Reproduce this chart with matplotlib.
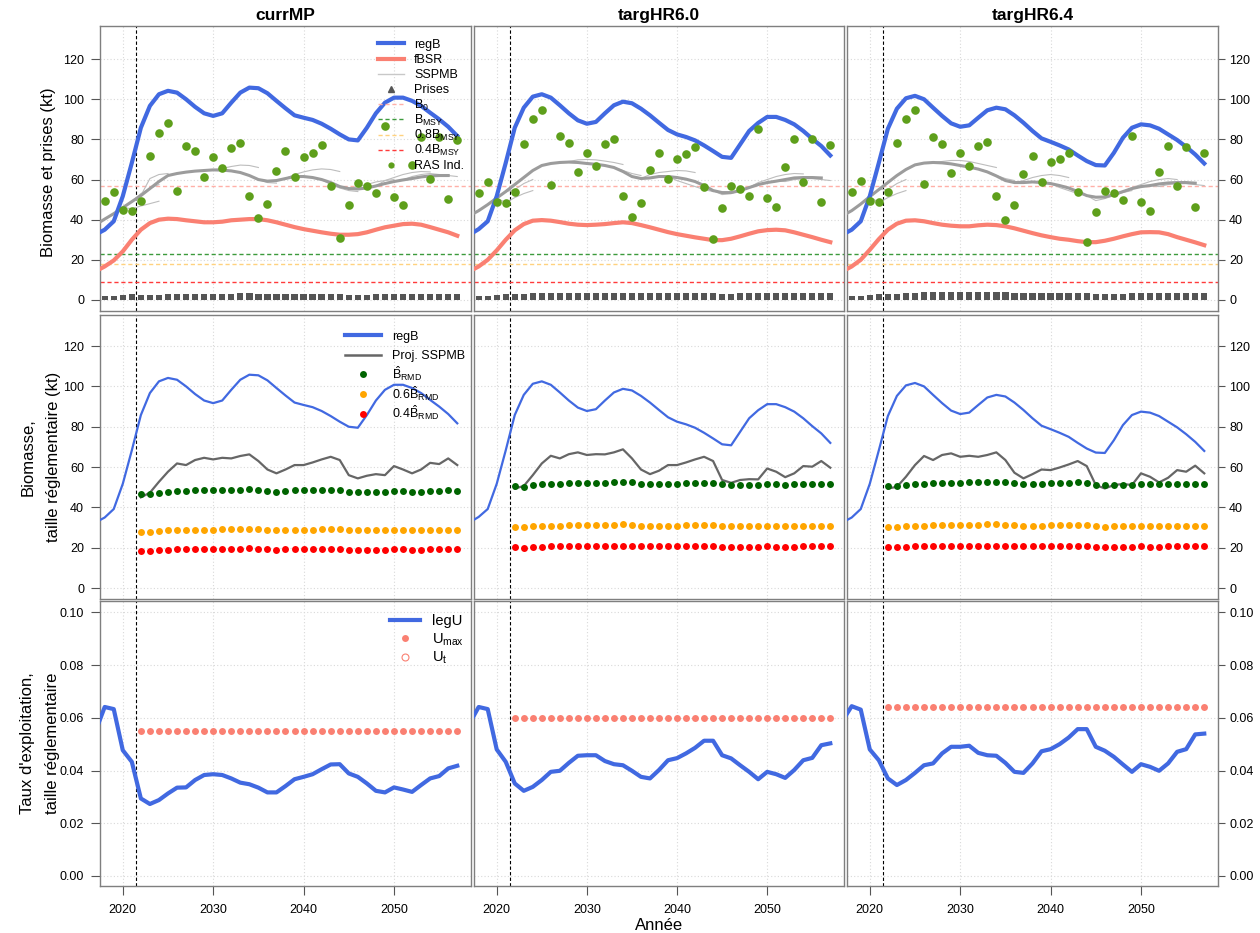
import numpy as np
import matplotlib
matplotlib.use('Agg')
import matplotlib.pyplot as plt
from matplotlib.lines import Line2D
from matplotlib.ticker import FormatStrFormatter

plt.rcParams['font.family'] = ['Liberation Sans', 'DejaVu Sans']
plt.rcParams['mathtext.default'] = 'regular'

# -----------------------------
# Data
# -----------------------------
scenarios = ['currMP', 'targHR6.0', 'targHR6.4']
years = np.arange(2017, 2058)        # operating-model years
obs_years = np.arange(2018, 2058)    # survey index and catch years
proj_years = np.arange(2022, 2058)   # projection years
sspmb_years = np.arange(2017, 2057)
t_mp = 2021.5                        # start of the MP period

regB_curr = [32.6, 35.0, 39.2, 51.7, 68.3, 85.8, 96.7, 102.5, 104.2, 103.3, 100.0, 96.2, 93.0, 91.7,
             93.0, 98.3, 103.3, 105.8, 105.5, 103.0, 99.2, 95.5, 92.0, 90.8, 89.7, 87.8, 85.3, 82.5,
             80.0, 79.5, 85.8, 93.0, 98.3, 100.8, 100.8, 99.2, 96.7, 93.3, 90.0, 86.3, 81.7]
regB_hr60 = [32.6, 35.3, 39.2, 51.7, 68.3, 85.8, 95.8, 101.3, 102.5, 100.8, 97.0, 93.0, 89.5, 87.8,
             88.7, 93.0, 97.0, 98.8, 98.0, 95.3, 92.0, 88.3, 84.7, 82.5, 81.2, 79.5, 77.0, 74.2,
             71.3, 70.8, 77.5, 84.2, 88.2, 91.2, 91.2, 89.7, 87.5, 84.2, 80.3, 76.7, 72.0]
regB_hr64 = [32.6, 35.0, 39.2, 51.7, 68.3, 85.3, 95.3, 100.5, 101.7, 100.0, 95.8, 91.7, 88.0, 86.3,
             87.0, 90.8, 94.5, 95.8, 95.0, 92.0, 88.3, 84.2, 80.5, 78.8, 77.0, 75.0, 72.0, 69.2,
             67.2, 67.0, 73.3, 80.8, 85.8, 87.5, 87.0, 85.3, 82.5, 79.7, 76.3, 72.5, 68.0]

fBSR_curr = [14.3, 16.7, 19.7, 24.2, 30.0, 35.0, 38.3, 40.0, 40.5, 40.3, 39.7, 39.2, 38.7, 38.7,
             39.0, 39.7, 40.0, 40.3, 40.3, 39.7, 38.7, 37.5, 36.3, 35.3, 34.5, 33.7, 33.0, 32.5,
             32.5, 32.8, 33.7, 35.0, 36.2, 37.0, 37.8, 38.0, 37.5, 36.3, 35.0, 33.7, 32.0]
fBSR_hr60 = [14.3, 16.7, 20.0, 24.7, 30.0, 34.7, 37.8, 39.5, 39.8, 39.5, 38.8, 38.0, 37.5, 37.3,
             37.5, 37.8, 38.3, 38.7, 38.3, 37.3, 36.2, 35.0, 33.8, 32.8, 32.0, 31.2, 30.5, 29.8,
             29.8, 30.5, 31.7, 33.0, 34.2, 34.8, 35.0, 34.7, 33.7, 32.5, 31.3, 30.0, 28.8]
fBSR_hr64 = [14.3, 16.7, 20.0, 25.0, 30.3, 35.0, 38.0, 39.5, 39.7, 39.2, 38.3, 37.5, 37.0, 36.7,
             36.7, 37.2, 37.5, 37.3, 36.7, 35.7, 34.5, 33.3, 32.2, 31.3, 30.5, 30.0, 29.3, 28.8,
             28.8, 29.5, 30.5, 31.7, 32.8, 33.7, 33.8, 33.7, 32.8, 31.3, 30.0, 28.7, 27.3]

# SSPMB fits (main trajectory) and the short tails of individual assessments
sspmb_curr = [37.5, 40.3, 43.0, 46.0, 49.0, 52.0, 55.5, 59.0, 62.0, 63.0, 63.7, 64.2, 64.5, 64.8,
              64.7, 64.3, 63.5, 62.0, 60.0, 59.2, 59.5, 60.5, 61.5, 61.5, 61.0, 60.0, 58.5, 56.5,
              55.5, 55.3, 55.8, 56.8, 58.0, 59.0, 59.8, 60.5, 61.3, 61.8, 62.0, 62.0]
sspmb_hr60 = [42.0, 44.5, 47.5, 50.8, 54.0, 57.5, 61.0, 64.5, 67.0, 68.0, 68.5, 68.7, 68.5, 68.0,
              67.6, 67.0, 66.0, 64.0, 61.5, 60.5, 60.8, 61.5, 61.5, 61.0, 60.2, 59.0, 57.0, 54.5,
              53.5, 53.5, 54.5, 56.0, 57.5, 58.5, 59.2, 60.0, 60.8, 61.0, 61.0, 60.8]
sspmb_hr64 = [42.0, 44.5, 47.8, 51.5, 55.0, 58.5, 62.0, 65.0, 67.3, 68.2, 68.5, 68.3, 67.8, 67.0,
              66.2, 65.2, 63.8, 61.8, 59.5, 58.5, 58.5, 58.8, 58.5, 58.0, 57.0, 55.8, 54.0, 52.0,
              51.2, 51.3, 52.5, 54.0, 55.5, 56.5, 57.0, 57.8, 58.3, 58.5, 58.5, 58.2]

tails_curr = [(2021, [45.5, 46.8, 48.0, 49.2]), (2022, [53.0, 55.5, 57.5]),
              (2023, [60.5, 62.5, 63.0]), (2031, [65.5, 66.5, 67.2, 67.0, 66.0]),
              (2034, [62.0, 60.0, 58.5, 58.2]), (2039, [62.5, 63.8, 64.8, 65.3, 65.0, 64.0]),
              (2043, [57.5, 55.8, 54.5, 54.0]), (2046, [56.5, 57.5, 58.8, 59.5, 60.0]),
              (2049, [59.5, 61.0, 62.5, 63.5, 64.0, 63.8]), (2052, [61.5, 62.5, 63.0, 62.5, 62.0, 61.5])]
tails_hr60 = [(2021, [48.5, 51.0, 53.0, 54.5]), (2022, [55.0, 58.0, 60.0]),
              (2028, [69.0, 69.8, 70.0, 69.8, 69.2, 68.5, 67.5]), (2033, [66.0, 64.5, 63.0, 62.0]),
              (2037, [62.5, 63.5, 64.0, 64.5, 64.3, 63.5]), (2040, [59.5, 58.0, 56.5, 55.0, 54.0]),
              (2045, [52.5, 53.0, 54.5, 56.0, 57.0]), (2049, [58.5, 60.0, 61.5, 62.5, 63.0, 62.8]),
              (2052, [59.0, 60.0, 60.5, 60.5, 60.0, 59.5])]
tails_hr64 = [(2021, [48.5, 51.0, 53.0, 54.5]), (2022, [55.0, 58.0, 60.0]),
              (2028, [69.0, 69.5, 69.5, 69.0, 68.0, 67.0, 66.0]), (2033, [64.0, 62.0, 60.5, 59.5]),
              (2037, [59.5, 61.0, 62.0, 62.5, 62.0, 61.0]), (2041, [56.0, 54.5, 53.0, 52.0, 51.5]),
              (2045, [49.5, 50.5, 52.0, 53.5, 54.5]), (2049, [56.0, 57.5, 59.0, 60.0, 60.5, 60.0]),
              (2052, [56.5, 57.5, 58.0, 58.0, 57.5, 57.0])]

ras_curr = [49.3, 53.8, 44.8, 44.3, 49.3, 71.8, 83.3, 88.2, 54.3, 76.8, 74.0, 61.2, 71.0, 65.7,
            75.8, 78.2, 51.7, 40.7, 48.0, 64.2, 74.0, 61.2, 71.3, 73.3, 77.2, 57.0, 30.7, 47.2,
            58.3, 56.7, 53.2, 86.5, 51.5, 47.2, 67.3, 81.2, 60.2, 81.2, 50.3, 79.7]
ras_hr60 = [53.5, 58.7, 49.0, 48.3, 53.8, 77.8, 90.0, 94.5, 57.3, 81.8, 78.2, 64.0, 73.0, 66.8,
            77.8, 80.2, 51.8, 41.3, 48.3, 64.8, 73.0, 60.2, 70.2, 72.7, 76.3, 56.2, 30.2, 45.8,
            56.7, 55.3, 52.0, 85.3, 51.0, 46.2, 66.3, 80.0, 59.0, 80.0, 48.8, 77.0]
ras_hr64 = [53.8, 59.2, 49.3, 48.7, 54.0, 78.2, 90.0, 94.5, 58.0, 81.3, 77.5, 63.5, 73.0, 66.5,
            76.7, 78.5, 51.7, 40.0, 47.2, 62.8, 71.8, 58.8, 68.5, 70.2, 73.3, 53.8, 28.8, 43.8,
            54.2, 53.2, 50.0, 81.7, 49.0, 44.5, 63.8, 76.7, 56.7, 76.3, 46.3, 73.3]

catch_curr = [2.2, 2.2, 2.3, 2.9, 2.3, 2.5, 2.5, 2.8, 3.0, 3.0, 3.0, 3.0, 3.0, 2.9, 2.9, 3.3, 3.3,
              3.0, 2.9, 2.8, 2.8, 2.9, 2.8, 2.9, 3.0, 3.2, 2.8, 2.6, 2.6, 2.6, 2.8, 3.0, 2.9, 2.9,
              2.9, 2.9, 2.9, 2.9, 2.9, 3.0]
catch_hr60 = [2.2, 2.2, 2.7, 3.0, 2.8, 3.0, 3.3, 3.5, 3.7, 3.3, 3.7, 3.7, 3.7, 3.7, 3.7, 3.7, 3.7,
              3.7, 3.7, 3.5, 3.3, 3.3, 3.5, 3.5, 3.5, 3.7, 3.3, 3.0, 3.0, 3.3, 3.5, 3.7, 3.5, 3.5,
              3.3, 3.5, 3.5, 3.5, 3.5, 3.5]
catch_hr64 = [2.0, 2.2, 2.3, 2.8, 3.0, 3.2, 3.5, 3.7, 4.0, 4.0, 4.0, 4.0, 4.0, 4.0, 4.0, 4.0, 4.0,
              4.0, 3.7, 3.7, 3.7, 3.7, 3.5, 3.5, 3.5, 3.5, 3.3, 2.8, 2.8, 3.0, 3.2, 3.3, 3.3, 3.5,
              3.5, 3.5, 3.5, 3.5, 3.5, 3.5]

B0 = 56.7
BMSY = 22.7

proj_curr = [45.0, 47.3, 52.7, 57.7, 61.8, 61.0, 63.5, 64.6, 63.8, 64.6, 64.3, 65.5, 66.3, 63.0,
             58.8, 56.9, 58.8, 61.0, 61.0, 62.3, 63.8, 65.1, 63.5, 56.0, 54.4, 55.7, 56.5, 56.0,
             60.5, 58.8, 56.9, 58.8, 62.1, 61.5, 64.3, 61.0]
proj_hr60 = [49.4, 50.6, 56.0, 61.8, 65.6, 64.3, 66.4, 67.3, 66.0, 66.4, 66.3, 67.3, 68.8, 64.3,
             58.8, 56.5, 58.2, 61.0, 61.0, 62.3, 63.8, 65.1, 63.0, 53.6, 52.2, 53.6, 54.0, 53.9,
             59.3, 57.7, 55.0, 56.9, 60.5, 60.2, 63.0, 59.7]
proj_hr64 = [49.4, 50.2, 55.2, 61.0, 65.5, 63.5, 66.0, 66.8, 65.1, 65.6, 65.1, 66.0, 67.3, 63.5,
             57.2, 54.4, 56.5, 58.8, 58.5, 59.8, 61.3, 63.0, 60.5, 51.1, 49.4, 51.1, 51.6, 51.1,
             56.9, 55.2, 52.4, 54.7, 58.5, 57.7, 60.7, 56.9]

brmd_curr = [46.6, 46.6, 47.3, 47.8, 48.1, 48.1, 48.4, 48.4, 48.4, 48.8, 48.8, 48.8, 49.1, 48.8,
             48.1, 47.8, 48.1, 48.4, 48.4, 48.4, 48.8, 48.8, 48.8, 47.8, 47.8, 47.8, 47.8, 47.8,
             48.3, 48.3, 47.8, 47.8, 48.3, 48.3, 48.4, 48.3]
brmd_hr60 = [50.4, 50.2, 51.1, 51.4, 51.6, 51.7, 51.9, 51.9, 51.9, 52.2, 52.2, 52.4, 52.6, 52.4,
             51.7, 51.6, 51.6, 51.6, 51.7, 51.9, 52.1, 52.2, 51.9, 51.4, 51.1, 51.1, 51.1, 51.1,
             51.6, 51.4, 51.2, 51.4, 51.6, 51.6, 51.6, 51.6]
brmd_hr64 = [50.4, 50.4, 51.2, 51.6, 51.7, 51.9, 52.2, 52.2, 52.2, 52.4, 52.4, 52.6, 52.7, 52.4,
             51.9, 51.6, 51.7, 51.7, 51.9, 52.1, 52.2, 52.4, 52.2, 51.1, 50.9, 51.1, 51.1, 51.1,
             51.6, 51.4, 51.4, 51.6, 51.6, 51.7, 51.7, 51.7]

legU_curr = [0.0550, 0.0641, 0.0633, 0.0477, 0.0433, 0.0294, 0.0273, 0.0288, 0.0313, 0.0335,
             0.0336, 0.0364, 0.0383, 0.0386, 0.0383, 0.0370, 0.0354, 0.0348, 0.0335, 0.0317,
             0.0317, 0.0341, 0.0367, 0.0376, 0.0386, 0.0405, 0.0423, 0.0424, 0.0389, 0.0376,
             0.0351, 0.0323, 0.0317, 0.0336, 0.0328, 0.0319, 0.0345, 0.0370, 0.0379, 0.0408, 0.0418]
legU_hr60 = [0.0580, 0.0641, 0.0633, 0.0480, 0.0433, 0.0351, 0.0323, 0.0338, 0.0364, 0.0395,
             0.0399, 0.0429, 0.0456, 0.0458, 0.0458, 0.0436, 0.0424, 0.0420, 0.0399, 0.0376,
             0.0370, 0.0402, 0.0439, 0.0447, 0.0465, 0.0486, 0.0513, 0.0513, 0.0458, 0.0446,
             0.0420, 0.0395, 0.0367, 0.0395, 0.0386, 0.0372, 0.0402, 0.0439, 0.0448, 0.0496, 0.0503]
legU_hr64 = [0.0590, 0.0644, 0.0631, 0.0480, 0.0439, 0.0370, 0.0345, 0.0364, 0.0391, 0.0420,
             0.0427, 0.0465, 0.0490, 0.0490, 0.0494, 0.0467, 0.0458, 0.0456, 0.0429, 0.0395,
             0.0391, 0.0427, 0.0473, 0.0481, 0.0500, 0.0525, 0.0557, 0.0557, 0.0490, 0.0475,
             0.0452, 0.0423, 0.0395, 0.0424, 0.0414, 0.0399, 0.0427, 0.0471, 0.0481, 0.0537, 0.0540]

Umax = [0.055, 0.060, 0.064]

regB = [regB_curr, regB_hr60, regB_hr64]
fBSR = [fBSR_curr, fBSR_hr60, fBSR_hr64]
sspmb = [sspmb_curr, sspmb_hr60, sspmb_hr64]
tails = [tails_curr, tails_hr60, tails_hr64]
ras = [ras_curr, ras_hr60, ras_hr64]
catch = [catch_curr, catch_hr60, catch_hr64]
proj = [proj_curr, proj_hr60, proj_hr64]
brmd = [brmd_curr, brmd_hr60, brmd_hr64]
legU = [legU_curr, legU_hr60, legU_hr64]

# -----------------------------
# Colours
# -----------------------------
c_regB = '#4169E1'
c_fbsr = '#FA8072'
c_sspmb = '#9C9C9C'
c_tail = '#BDBDBD'
c_ras = '#5E9F1B'
c_catch = '#555555'
c_B0 = '#FFB0A8'
c_BMSY = '#3C9A3C'
c_08 = '#FFD27F'
c_04 = '#FF3B3B'
c_proj = '#666666'

# -----------------------------
# Layout: 3 x 3 panels, no gaps
# -----------------------------
W, H = 1260, 933
fig = plt.figure(figsize=(W / 100, H / 100), dpi=100)
col_x = [100, 474, 847]
col_w = [371, 370, 371]
row_y = [26, 315, 601]
row_h = [285, 284, 285]
axes = [[fig.add_axes([col_x[c] / W, 1 - (row_y[r] + row_h[r]) / H, col_w[c] / W, row_h[r] / H])
         for c in range(3)] for r in range(3)]

ylims = [(-5.5, 136.5), (-5.4, 135.4), (-0.0038, 0.1043)]
yticks = [np.arange(0, 121, 20), np.arange(0, 121, 20), np.arange(0, 0.101, 0.02)]


def style(ax, r, c):
    ax.set_xlim(2017.48, 2058.52)
    ax.set_ylim(*ylims[r])
    ax.set_xticks([2020, 2030, 2040, 2050])
    ax.set_yticks(yticks[r])
    if r == 2:
        ax.yaxis.set_major_formatter(FormatStrFormatter('%.2f'))
    ax.grid(True, color='#D9D9D9', linestyle=(0, (1, 2)), linewidth=0.8)
    ax.set_axisbelow(True)
    for s in ax.spines.values():
        s.set_color('#7F7F7F')
        s.set_linewidth(1.0)
    ax.tick_params(axis='both', colors='#555555', labelcolor='black', labelsize=9, length=6.5,
                   width=0.8)
    ax.tick_params(axis='x', bottom=(r == 2), labelbottom=(r == 2), top=False, pad=6.5)
    ax.tick_params(axis='y', left=(c == 0), labelleft=(c == 0), right=(c == 2),
                   labelright=(c == 2), pad=5)
    if c == 2:
        ax.tick_params(axis='y', length=5, pad=3)
    ax.axvline(t_mp, color='black', linestyle=(0, (3, 2)), linewidth=0.8, zorder=1)


for c in range(3):
    # --- top row: biomass, catch and survey index
    ax = axes[0][c]
    style(ax, 0, c)
    ax.axhline(B0, color=c_B0, linestyle=(0, (3, 2)), linewidth=1.0)
    ax.axhline(BMSY, color=c_BMSY, linestyle=(0, (3, 2)), linewidth=1.0)
    ax.axhline(0.8 * BMSY, color=c_08, linestyle=(0, (3, 2)), linewidth=1.0)
    ax.axhline(0.4 * BMSY, color=c_04, linestyle=(0, (3, 2)), linewidth=1.0)
    for start, vals in tails[c]:
        ty = np.arange(start - 1, start + len(vals))
        base = sspmb[c][start - 1 - sspmb_years[0]]
        ax.plot(ty, [base] + vals, color=c_tail, linewidth=0.8, zorder=2)
    ax.plot(sspmb_years, sspmb[c], color=c_sspmb, linewidth=2.2, zorder=3)
    ax.bar(obs_years, catch[c], width=0.7, color=c_catch, zorder=3)
    ax.plot(years, fBSR[c], color=c_fbsr, linewidth=3.0, zorder=4)
    ax.plot(years, regB[c], color=c_regB, linewidth=3.0, zorder=4)
    ax.plot(obs_years, ras[c], 'o', color=c_ras, markersize=6.2, markeredgewidth=0, zorder=5)
    ax.set_title(scenarios[c], fontweight='bold', fontsize=12.5, pad=4)

    # --- middle row: regulatory-size biomass vs. projected SSPMB and reference points
    ax = axes[1][c]
    style(ax, 1, c)
    ax.plot(years, regB[c], color=c_regB, linewidth=1.6, zorder=3)
    ax.plot(proj_years, proj[c], color=c_proj, linewidth=1.6, zorder=3)
    b = np.array(brmd[c])
    ax.plot(proj_years, b, 'o', color='#006400', markersize=5, markeredgewidth=0, zorder=4)
    ax.plot(proj_years, 0.6 * b, 'o', color='#FFA500', markersize=5, markeredgewidth=0, zorder=4)
    ax.plot(proj_years, 0.4 * b, 'o', color='#FF0000', markersize=5, markeredgewidth=0, zorder=4)

    # --- bottom row: exploitation rate
    ax = axes[2][c]
    style(ax, 2, c)
    ax.plot(years, legU[c], color=c_regB, linewidth=3.0, zorder=3)
    ax.plot(proj_years, [Umax[c]] * len(proj_years), 'o', color=c_fbsr, markersize=5,
            markeredgewidth=0, zorder=4)


# -----------------------------
# Legends (first column only), laid out row by row in figure pixels
# -----------------------------
def key_legend(entries, x0, x1, xt, y_first, dy, fontsize):
    for i, (kind, kw, label) in enumerate(entries):
        y = 1 - (y_first + i * dy) / H
        if kind == 'line':
            fig.add_artist(Line2D([x0 / W, x1 / W], [y, y], transform=fig.transFigure,
                                  zorder=10, **kw))
        else:
            xm = (x0 + x1) / 2 / W
            fig.add_artist(Line2D([xm], [y], transform=fig.transFigure, lw=0, zorder=10, **kw))
        fig.text(xt / W, y - 0.36 * fontsize * 1.389 / H, label, fontsize=fontsize,
                 va='baseline', ha='left', zorder=10)


dash = (0, (3, 2))
key_legend([('line', dict(color=c_regB, lw=3), 'regB'),
            ('line', dict(color=c_fbsr, lw=3), 'fBSR'),
            ('line', dict(color='#C8C8C8', lw=1), 'SSPMB'),
            ('mark', dict(color=c_catch, marker='^', markersize=5), 'Prises'),
            ('line', dict(color=c_B0, lw=1, ls=dash), 'B$_0$'),
            ('line', dict(color=c_BMSY, lw=1, ls=dash), 'B$_{MSY}$'),
            ('line', dict(color=c_08, lw=1, ls=dash), '0.8B$_{MSY}$'),
            ('line', dict(color=c_04, lw=1, ls=dash), '0.4B$_{MSY}$'),
            ('mark', dict(color=c_ras, marker='o', markersize=4.5, markeredgewidth=0), 'RAS Ind.')],
           378, 404, 414, 43.3, 15.2, 9)

key_legend([('line', dict(color=c_regB, lw=3), 'regB'),
            ('line', dict(color=c_proj, lw=1.8), 'Proj. SSPMB'),
            ('mark', dict(color='#006400', marker='o', markersize=5, markeredgewidth=0),
             r'$\hat{B}_{RMD}$'),
            ('mark', dict(color='#FFA500', marker='o', markersize=5, markeredgewidth=0),
             r'0.6$\hat{B}_{RMD}$'),
            ('mark', dict(color='#FF0000', marker='o', markersize=5, markeredgewidth=0),
             r'0.4$\hat{B}_{RMD}$')],
           345, 381, 392, 335, 19.7, 9)

key_legend([('line', dict(color=c_regB, lw=3), 'legU'),
            ('mark', dict(color=c_fbsr, marker='o', markersize=5, markeredgewidth=0), 'U$_{max}$'),
            ('mark', dict(color=c_fbsr, marker='o', markersize=5, markerfacecolor='none',
                          markeredgewidth=0.8), 'U$_t$')],
           390, 420, 432, 620, 18.3, 10.5)

# -----------------------------
# Axis titles
# -----------------------------
fig.text(48 / W, 1 - 172 / H, 'Biomasse et prises (kt)', rotation=90, ha='center', va='center',
         fontsize=12)
fig.text(41 / W, 1 - 457 / H, 'Biomasse,\ntaille réglementaire (kt)', rotation=90, ha='center',
         va='center', fontsize=12, linespacing=1.9)
fig.text(40 / W, 1 - 743 / H, "Taux d'exploitation,\ntaille réglementaire", rotation=90,
         ha='center', va='center', fontsize=12, linespacing=1.9)
fig.text(659 / W, 1 - 926 / H, 'Année', ha='center', va='center', fontsize=12)

fig.savefig('out.png', dpi=100)
